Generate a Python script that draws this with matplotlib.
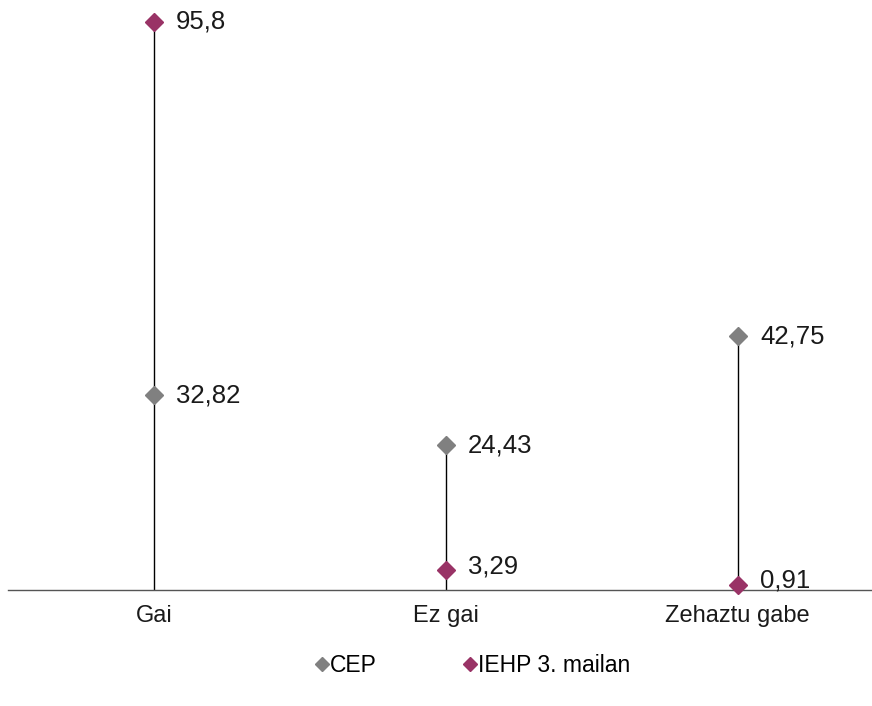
import matplotlib.pyplot as plt
from matplotlib.lines import Line2D

plt.rcParams['font.family'] = ['Liberation Sans', 'DejaVu Sans']

categories = ["Gai", "Ez gai", "Zehaztu gabe"]
cep = [32.82, 24.43, 42.75]
iehp = [95.8, 3.29, 0.91]
cep_labels = ["32,82", "24,43", "42,75"]
iehp_labels = ["95,8", "3,29", "0,91"]

grey = "#808080"
plum = "#993366"

fig = plt.figure(figsize=(8.72, 7.06), dpi=100)
# axes placed so the baseline sits near y=590px
ax = fig.add_axes([8 / 872, (706 - 590) / 706, 864 / 872, 590 / 706])
ax.set_xlim(-0.5, 2.46)
ax.set_ylim(0, 590 / 5.93)

x = range(len(categories))
for i in x:
    ax.vlines(i, 0, max(cep[i], iehp[i]), color="black", lw=1, zorder=1)

ax.plot(x, cep, ls="none", marker="D", ms=9.5, color=grey, zorder=3, clip_on=False)
ax.plot(x, iehp, ls="none", marker="D", ms=9.5, color=plum, zorder=3, clip_on=False)

for i in x:
    ax.annotate(cep_labels[i], (i, cep[i]), xytext=(16, 0), textcoords="offset points",
                va="center", ha="left", fontsize=18.5, color="#1a1a1a")
    ax.annotate(iehp_labels[i], (i, iehp[i]), xytext=(16, 3 if iehp[i] < 5 else 0),
                textcoords="offset points", va="center", ha="left", fontsize=18.5,
                color="#1a1a1a")

for s in ["top", "right", "left"]:
    ax.spines[s].set_visible(False)
ax.spines["bottom"].set_color("#555555")
ax.spines["bottom"].set_linewidth(1)
ax.set_yticks([])
ax.set_xticks(list(x))
ax.set_xticklabels(categories, fontsize=17, color="#1a1a1a")
ax.tick_params(axis="x", length=0, pad=11)

handles = [
    Line2D([], [], ls="none", marker="D", ms=7, color=grey, label="CEP"),
    Line2D([], [], ls="none", marker="D", ms=7, color=plum, label="IEHP 3. mailan"),
]
fig.legend(handles=handles, loc="center", bbox_to_anchor=(473 / 872, 1 - 666 / 706),
           ncol=2, frameon=False, fontsize=16.5, handlelength=0.5, handletextpad=0.1,
           columnspacing=3.8)

fig.savefig("out.png", dpi=100)
